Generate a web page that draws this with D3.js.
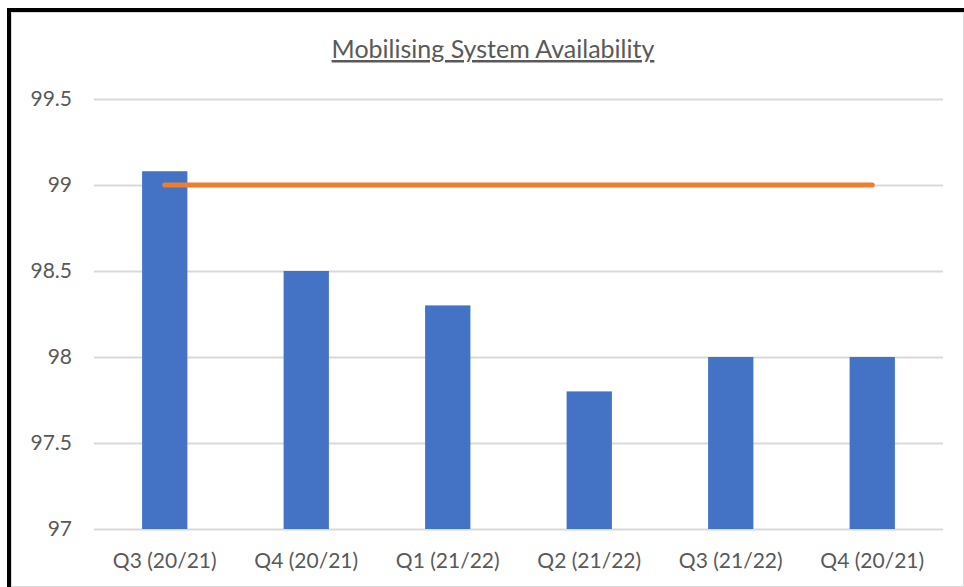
<!DOCTYPE html>
<html>
<head>
<meta charset="utf-8">
<script src="https://cdn.jsdelivr.net/npm/d3@7"></script>
<style>
  html, body { margin: 0; padding: 0; background: #fff; }
  svg { display: block; }
  .tick text { font-family: Lato, "Open Sans", sans-serif; fill: #595959; }
</style>
</head>
<body>
<div id="chart"></div>
<script>
// data (last label really does repeat "Q4 (20/21)")
const quarters = ['Q3 (20/21)', 'Q4 (20/21)', 'Q1 (21/22)', 'Q2 (21/22)', 'Q3 (21/22)', 'Q4 (20/21)'];
const availability = [99.08, 98.5, 98.3, 97.8, 98.0, 98.0];
const target = [99, 99, 99, 99, 99, 99];
const yTicks = [97, 97.5, 98, 98.5, 99, 99.5];

const W = 964, H = 587;
const plot = {left: 94, right: 943, top: 99, bottom: 529};

const svg = d3.select('#chart').append('svg')
  .attr('width', W).attr('height', H);

// frame: black top and left edges with a faint grey inner edge
svg.append('rect').attr('x', 11).attr('y', 12).attr('width', W - 11).attr('height', H - 12)
  .attr('fill', '#fff').attr('stroke', '#d9d9d9').attr('stroke-width', 2);
svg.append('rect').attr('x', 7).attr('y', 8).attr('width', W - 7).attr('height', 4).attr('fill', '#000');
svg.append('rect').attr('x', 7).attr('y', 8).attr('width', 4).attr('height', H - 8).attr('fill', '#000');

// band scale keyed by index, since two categories share the same label
const x = d3.scaleBand().domain(d3.range(quarters.length))
  .range([plot.left, plot.right]).paddingInner(0.68).paddingOuter(0.34);
const y = d3.scaleLinear().domain([97, 99.5]).range([plot.bottom, plot.top]);

// y axis with gridlines
const yAxis = svg.append('g')
  .attr('transform', `translate(${plot.left},0)`)
  .call(d3.axisLeft(y).tickValues(yTicks).tickFormat(d3.format('~g'))
    .tickSize(-(plot.right - plot.left)).tickPadding(22));
yAxis.select('.domain').remove();
yAxis.selectAll('.tick line').attr('stroke', '#d9d9d9').attr('stroke-width', 2);
yAxis.selectAll('.tick text').attr('font-size', 21);

// bars
svg.append('g').selectAll('rect')
  .data(availability)
  .join('rect')
  .attr('x', (d, i) => x(i))
  .attr('y', d => y(d))
  .attr('width', x.bandwidth())
  .attr('height', d => y(97) - y(d))
  .attr('fill', '#4472c4');

// x axis labels
const xAxis = svg.append('g')
  .attr('transform', `translate(0,${plot.bottom})`)
  .call(d3.axisBottom(x).tickFormat(i => quarters[i]).tickSize(0).tickPadding(24));
xAxis.select('.domain').remove();
xAxis.selectAll('.tick text').attr('font-size', 21);

// target line
const line = d3.line()
  .x((d, i) => x(i) + x.bandwidth() / 2)
  .y(d => y(d));
svg.append('path')
  .datum(target)
  .attr('d', line)
  .attr('fill', 'none')
  .attr('stroke', '#ed7d31')
  .attr('stroke-width', 5)
  .attr('stroke-linecap', 'round');

// title
svg.append('text')
  .attr('x', 493).attr('y', 58)
  .attr('text-anchor', 'middle')
  .attr('font-family', 'Lato, "Open Sans", sans-serif')
  .attr('font-size', 25)
  .attr('fill', '#595959')
  .attr('text-decoration', 'underline')
  .text('Mobilising System Availability');
</script>
</body>
</html>
